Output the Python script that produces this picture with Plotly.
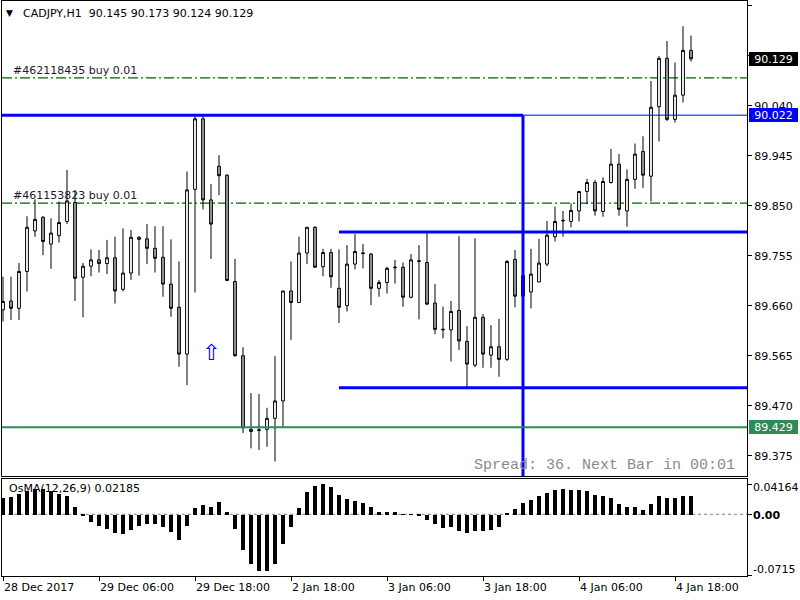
import plotly.graph_objects as go

# ---------------- data ----------------
symbol_header = "CADJPY,H1\u00a0\u00a090.145 90.173 90.124 90.129"

opens = [89.652, 89.669, 89.655, 89.725, 89.802, 89.828, 89.777, 89.793, 89.820, 89.856,
         89.714, 89.735, 89.747, 89.740, 89.751, 89.691, 89.722, 89.786, 89.787, 89.769,
         89.752, 89.701, 89.657, 89.568, 89.881, 90.015, 89.861, 89.925, 89.908, 89.706,
         89.565, 89.421, 89.423, 89.425, 89.446, 89.479, 89.688, 89.666, 89.760, 89.809,
         89.734, 89.761, 89.693, 89.660, 89.739, 89.759, 89.758, 89.693, 89.704, 89.732,
         89.733, 89.676, 89.744, 89.742, 89.665, 89.614, 89.614, 89.651, 89.592, 89.547,
         89.638, 89.566, 89.582, 89.558, 89.748, 89.717, 89.686, 89.705, 89.739, 89.791,
         89.821, 89.820, 89.840, 89.877, 89.894, 89.839, 89.894, 89.929, 89.840, 89.900,
         89.953, 89.906, 90.038, 90.130, 90.014, 90.060, 90.145]

highs = [89.715, 89.715, 89.741, 89.830, 89.862, 89.830, 89.826, 89.858, 89.918, 89.880,
         89.741, 89.767, 89.766, 89.785, 89.791, 89.807, 89.804, 89.792, 89.815, 89.811,
         89.811, 89.786, 89.744, 89.915, 90.020, 90.022, 89.891, 89.946, 89.910, 89.749,
         89.581, 89.494, 89.492, 89.466, 89.564, 89.688, 89.744, 89.791, 89.809, 89.811,
         89.768, 89.768, 89.767, 89.775, 89.796, 89.777, 89.760, 89.709, 89.734, 89.747,
         89.742, 89.758, 89.775, 89.799, 89.701, 89.658, 89.669, 89.792, 89.621, 89.788,
         89.644, 89.623, 89.635, 89.747, 89.766, 89.722, 89.768, 89.787, 89.821, 89.848,
         89.840, 89.854, 89.877, 89.901, 89.899, 89.904, 89.958, 89.948, 89.919, 89.968,
         89.982, 90.087, 90.134, 90.163, 90.122, 90.191, 90.173]

lows = [89.630, 89.633, 89.633, 89.687, 89.791, 89.756, 89.730, 89.780, 89.815, 89.669,
        89.638, 89.716, 89.723, 89.720, 89.664, 89.687, 89.709, 89.717, 89.739, 89.723,
        89.677, 89.639, 89.544, 89.509, 89.685, 89.843, 89.749, 89.870, 89.707, 89.563,
        89.418, 89.389, 89.386, 89.392, 89.364, 89.430, 89.595, 89.666, 89.739, 89.733,
        89.716, 89.694, 89.627, 89.649, 89.729, 89.731, 89.661, 89.677, 89.683, 89.702,
        89.658, 89.674, 89.634, 89.661, 89.606, 89.598, 89.554, 89.576, 89.504, 89.543,
        89.542, 89.542, 89.525, 89.555, 89.657, 89.676, 89.655, 89.705, 89.735, 89.782,
        89.791, 89.809, 89.820, 89.853, 89.831, 89.829, 89.892, 89.831, 89.810, 89.882,
        89.884, 89.858, 89.972, 90.011, 90.008, 90.046, 90.124]

closes = [89.668, 89.655, 89.725, 89.809, 89.824, 89.782, 89.798, 89.818, 89.859, 89.712,
          89.735, 89.747, 89.740, 89.751, 89.688, 89.722, 89.790, 89.790, 89.769, 89.750,
          89.701, 89.655, 89.568, 89.880, 90.015, 89.861, 89.815, 89.907, 89.708, 89.565,
          89.428, 89.425, 89.424, 89.446, 89.479, 89.688, 89.666, 89.760, 89.809, 89.733,
          89.761, 89.715, 89.657, 89.739, 89.763, 89.760, 89.693, 89.704, 89.731, 89.733,
          89.676, 89.747, 89.745, 89.663, 89.615, 89.615, 89.649, 89.593, 89.549, 89.638,
          89.568, 89.582, 89.558, 89.744, 89.678, 89.678, 89.720, 89.741, 89.794, 89.820,
          89.822, 89.841, 89.877, 89.894, 89.840, 89.896, 89.929, 89.843, 89.900, 89.948,
          89.908, 90.037, 90.130, 90.014, 90.060, 90.145, 90.129]

osma = [0.0194, 0.0206, 0.0244, 0.0282, 0.0302, 0.0302, 0.0271, 0.0240, 0.0221, 0.0085,
        -0.0008, -0.0089, -0.0136, -0.0163, -0.0213, -0.0224, -0.0182, -0.0136, -0.0108, -0.0108,
        -0.0143, -0.0206, -0.0298, -0.0136, 0.0078, 0.0116, 0.0096, 0.0148, 0.0031, -0.0166,
        -0.0407, -0.0573, -0.0650, -0.0650, -0.0573, -0.0340, -0.0143, 0.0078, 0.0264, 0.0340,
        0.0360, 0.0329, 0.0232, 0.0182, 0.0166, 0.0136, 0.0085, 0.0038, 0.0031, 0.0031,
        0.0006, 0.0003, -0.0003, -0.0058, -0.0105, -0.0159, -0.0147, -0.0186, -0.0213, -0.0186,
        -0.0186, -0.0178, -0.0147, 0.0015, 0.0070, 0.0136, 0.0174, 0.0213, 0.0252, 0.0290,
        0.0298, 0.0290, 0.0290, 0.0282, 0.0232, 0.0213, 0.0194, 0.0124, 0.0096, 0.0096,
        0.0058, 0.0120, 0.0221, 0.0194, 0.0194, 0.0221, 0.02185]

bars = list(range(len(opens)))

time_tick_bars = [0, 12, 24, 36, 48, 60, 72, 84]
time_tick_labels = ["28 Dec 2017", "29 Dec 06:00", "29 Dec 18:00", "2 Jan 18:00",
                    "3 Jan 06:00", "3 Jan 18:00", "4 Jan 06:00", "4 Jan 18:00"]

price_ticks = [90.230, 90.135, 90.040, 89.945, 89.850, 89.755, 89.660, 89.565, 89.470, 89.375]
hidden_price_ticks = [90.135]   # covered by the bid box in the terminal

osma_label = "OsMA(12,26,9) 0.02185"
osma_scale_labels = [("0.04164", 0.04164), ("<b>0.00</b>", 0.0), ("-0.0715", -0.0715)]

bid_price = 90.129
hline_price = 90.022       # blue horizontal line
support_price = 89.429     # green horizontal line
box_top_price = 89.800     # blue ray
box_bot_price = 89.504     # blue ray
box_start_bar = 42
vline_bar = 65
orders = [("#462118435 buy 0.01", 90.093), ("#461153823 buy 0.01", 89.855)]
arrow_bar, arrow_price = 26, 89.572
spread_text = "Spread: 36. Next Bar in 00:01"

# ---------------- layout geometry (pixels) ----------------
W, H = 800, 600
def fx(p):
    return p / W
def fy(p):
    return 1 - p / H

LEFT, RIGHT = 2, 747
MAIN_TOP, MAIN_BOT = 1, 476
IND_TOP, IND_BOT = 478.5, 575.7
x_range = [-0.125, 93.0]
price_range = [89.3364, 90.2389]
osma_range = [-0.0715, 0.04164]

FONT = "DejaVu Sans"

fig = go.Figure()

fig.add_trace(go.Candlestick(
    x=bars, open=opens, high=highs, low=lows, close=closes,
    increasing=dict(fillcolor="white", line=dict(color="black", width=1)),
    decreasing=dict(fillcolor="#A0A0A0", line=dict(color="black", width=1)),
    whiskerwidth=0, showlegend=False, hoverinfo="skip",
    xaxis="x", yaxis="y"))

fig.add_trace(go.Bar(
    x=bars, y=osma, width=0.42, marker=dict(color="black", line=dict(width=0)),
    showlegend=False, hoverinfo="skip", xaxis="x2", yaxis="y2"))

shapes = []
for txt, p in orders:
    shapes.append(dict(type="line", xref="x", yref="y", x0=x_range[0], x1=x_range[1], y0=p, y1=p,
                       line=dict(color="#006400", width=1.2, dash="10px,3px,2px,3px"), layer="below"))
shapes.append(dict(type="line", xref="x2", yref="y2", x0=x_range[0], x1=x_range[1], y0=0, y1=0,
                   line=dict(color="#808080", width=1, dash="3px,3px"), layer="below"))
shapes.append(dict(type="line", xref="x", yref="y", x0=x_range[0], x1=x_range[1], y0=hline_price, y1=hline_price,
                   line=dict(color="#0000FF", width=1)))
shapes.append(dict(type="line", xref="x", yref="y", x0=x_range[0], x1=vline_bar, y0=hline_price, y1=hline_price,
                   line=dict(color="#0000FF", width=3)))
shapes.append(dict(type="line", xref="x", yref="y", x0=vline_bar, x1=vline_bar, y0=hline_price, y1=price_range[0],
                   line=dict(color="#0000FF", width=3)))
for p in (box_top_price, box_bot_price):
    shapes.append(dict(type="line", xref="x", yref="y", x0=box_start_bar, x1=x_range[1], y0=p, y1=p,
                       line=dict(color="#0000FF", width=3)))
shapes.append(dict(type="line", xref="x", yref="y", x0=x_range[0], x1=x_range[1], y0=support_price, y1=support_price,
                   line=dict(color="#2E8B57", width=2)))

annotations = []
annotations.append(dict(text="▼", x=fx(4), y=fy(13), xref="paper", yref="paper", xanchor="left", yanchor="middle",
                        showarrow=False, font=dict(family=FONT, size=9, color="black")))
annotations.append(dict(text=symbol_header, x=fx(21), y=fy(13), xref="paper", yref="paper", xanchor="left",
                        yanchor="middle", showarrow=False, font=dict(family=FONT, size=11, color="black")))
for txt, p in orders:
    annotations.append(dict(text=txt, x=fx(11), y=p, xref="paper", yref="y", xanchor="left", yanchor="bottom",
                            yshift=-1, showarrow=False, font=dict(family=FONT, size=11, color="#1A1A2A")))
for txt_val, bg in ((bid_price, "black"), (hline_price, "#0000FF"), (support_price, "#2E8B57")):
    annotations.append(dict(text=f"{txt_val:.3f}", x=fx(748.5), y=txt_val, xref="paper", yref="y",
                            xanchor="left", yanchor="middle", showarrow=False, bgcolor=bg, borderwidth=0,
                            borderpad=0, width=49, height=14,
                            font=dict(family=FONT, size=11, color="white")))
annotations.append(dict(text="⇧", x=arrow_bar, y=arrow_price, xref="x", yref="y", xanchor="center",
                        yanchor="middle", showarrow=False, font=dict(family=FONT, size=22, color="#0000FF")))
annotations.append(dict(text=spread_text, x=fx(737), y=fy(466), xref="paper", yref="paper", xanchor="right",
                        yanchor="middle", showarrow=False,
                        font=dict(family="Liberation Mono", size=15, color="#8A8A8A")))
annotations.append(dict(text=osma_label, x=fx(7), y=fy(489), xref="paper", yref="paper", xanchor="left",
                        yanchor="middle", showarrow=False, font=dict(family=FONT, size=11, color="black")))
osma_label_px = [487, 515.5, 569]
for (txt, v), ypx in zip(osma_scale_labels, osma_label_px):
    annotations.append(dict(text=txt, x=fx(751), y=fy(ypx), xref="paper", yref="paper",
                            xanchor="left", yanchor="middle", showarrow=False,
                            font=dict(family=FONT, size=11, color="black")))
for b, lab in zip(time_tick_bars, time_tick_labels):
    annotations.append(dict(text=lab, x=b, y=fy(587), xref="x2", yref="paper", xanchor="left", xshift=-1,
                            yanchor="middle", showarrow=False, font=dict(family=FONT, size=11, color="black")))

axis_common = dict(showgrid=False, zeroline=False, showline=True, mirror=True, linecolor="black", linewidth=1)

fig.update_layout(
    width=W, height=H,
    margin=dict(l=0, r=0, t=0, b=0),
    paper_bgcolor="white", plot_bgcolor="white",
    showlegend=False,
    boxgap=0.5,
    bargap=0,
    xaxis=dict(domain=[fx(LEFT), fx(RIGHT)], range=x_range, anchor="y", showticklabels=False, ticks="",
               rangeslider=dict(visible=False), **axis_common),
    yaxis=dict(domain=[fy(MAIN_BOT), fy(MAIN_TOP)], range=price_range, anchor="x", side="right",
               tickvals=price_ticks,
               ticktext=["" if v in hidden_price_ticks else f"{v:.3f}" for v in price_ticks],
               ticks="outside", ticklen=4, tickcolor="black",
               tickfont=dict(family=FONT, size=11, color="black"), **axis_common),
    xaxis2=dict(domain=[fx(LEFT), fx(RIGHT)], range=x_range, anchor="y2", matches="x", showticklabels=False,
                tickvals=time_tick_bars, ticks="outside", ticklen=4, tickcolor="black", **axis_common),
    yaxis2=dict(domain=[fy(IND_BOT), fy(IND_TOP)], range=osma_range, anchor="x2", side="right",
                tickvals=[0.0352, 0.0, -0.0708], showticklabels=False, ticks="outside", ticklen=4,
                tickcolor="black", **axis_common),
    shapes=shapes,
    annotations=annotations,
)

fig.write_html("out.html")
